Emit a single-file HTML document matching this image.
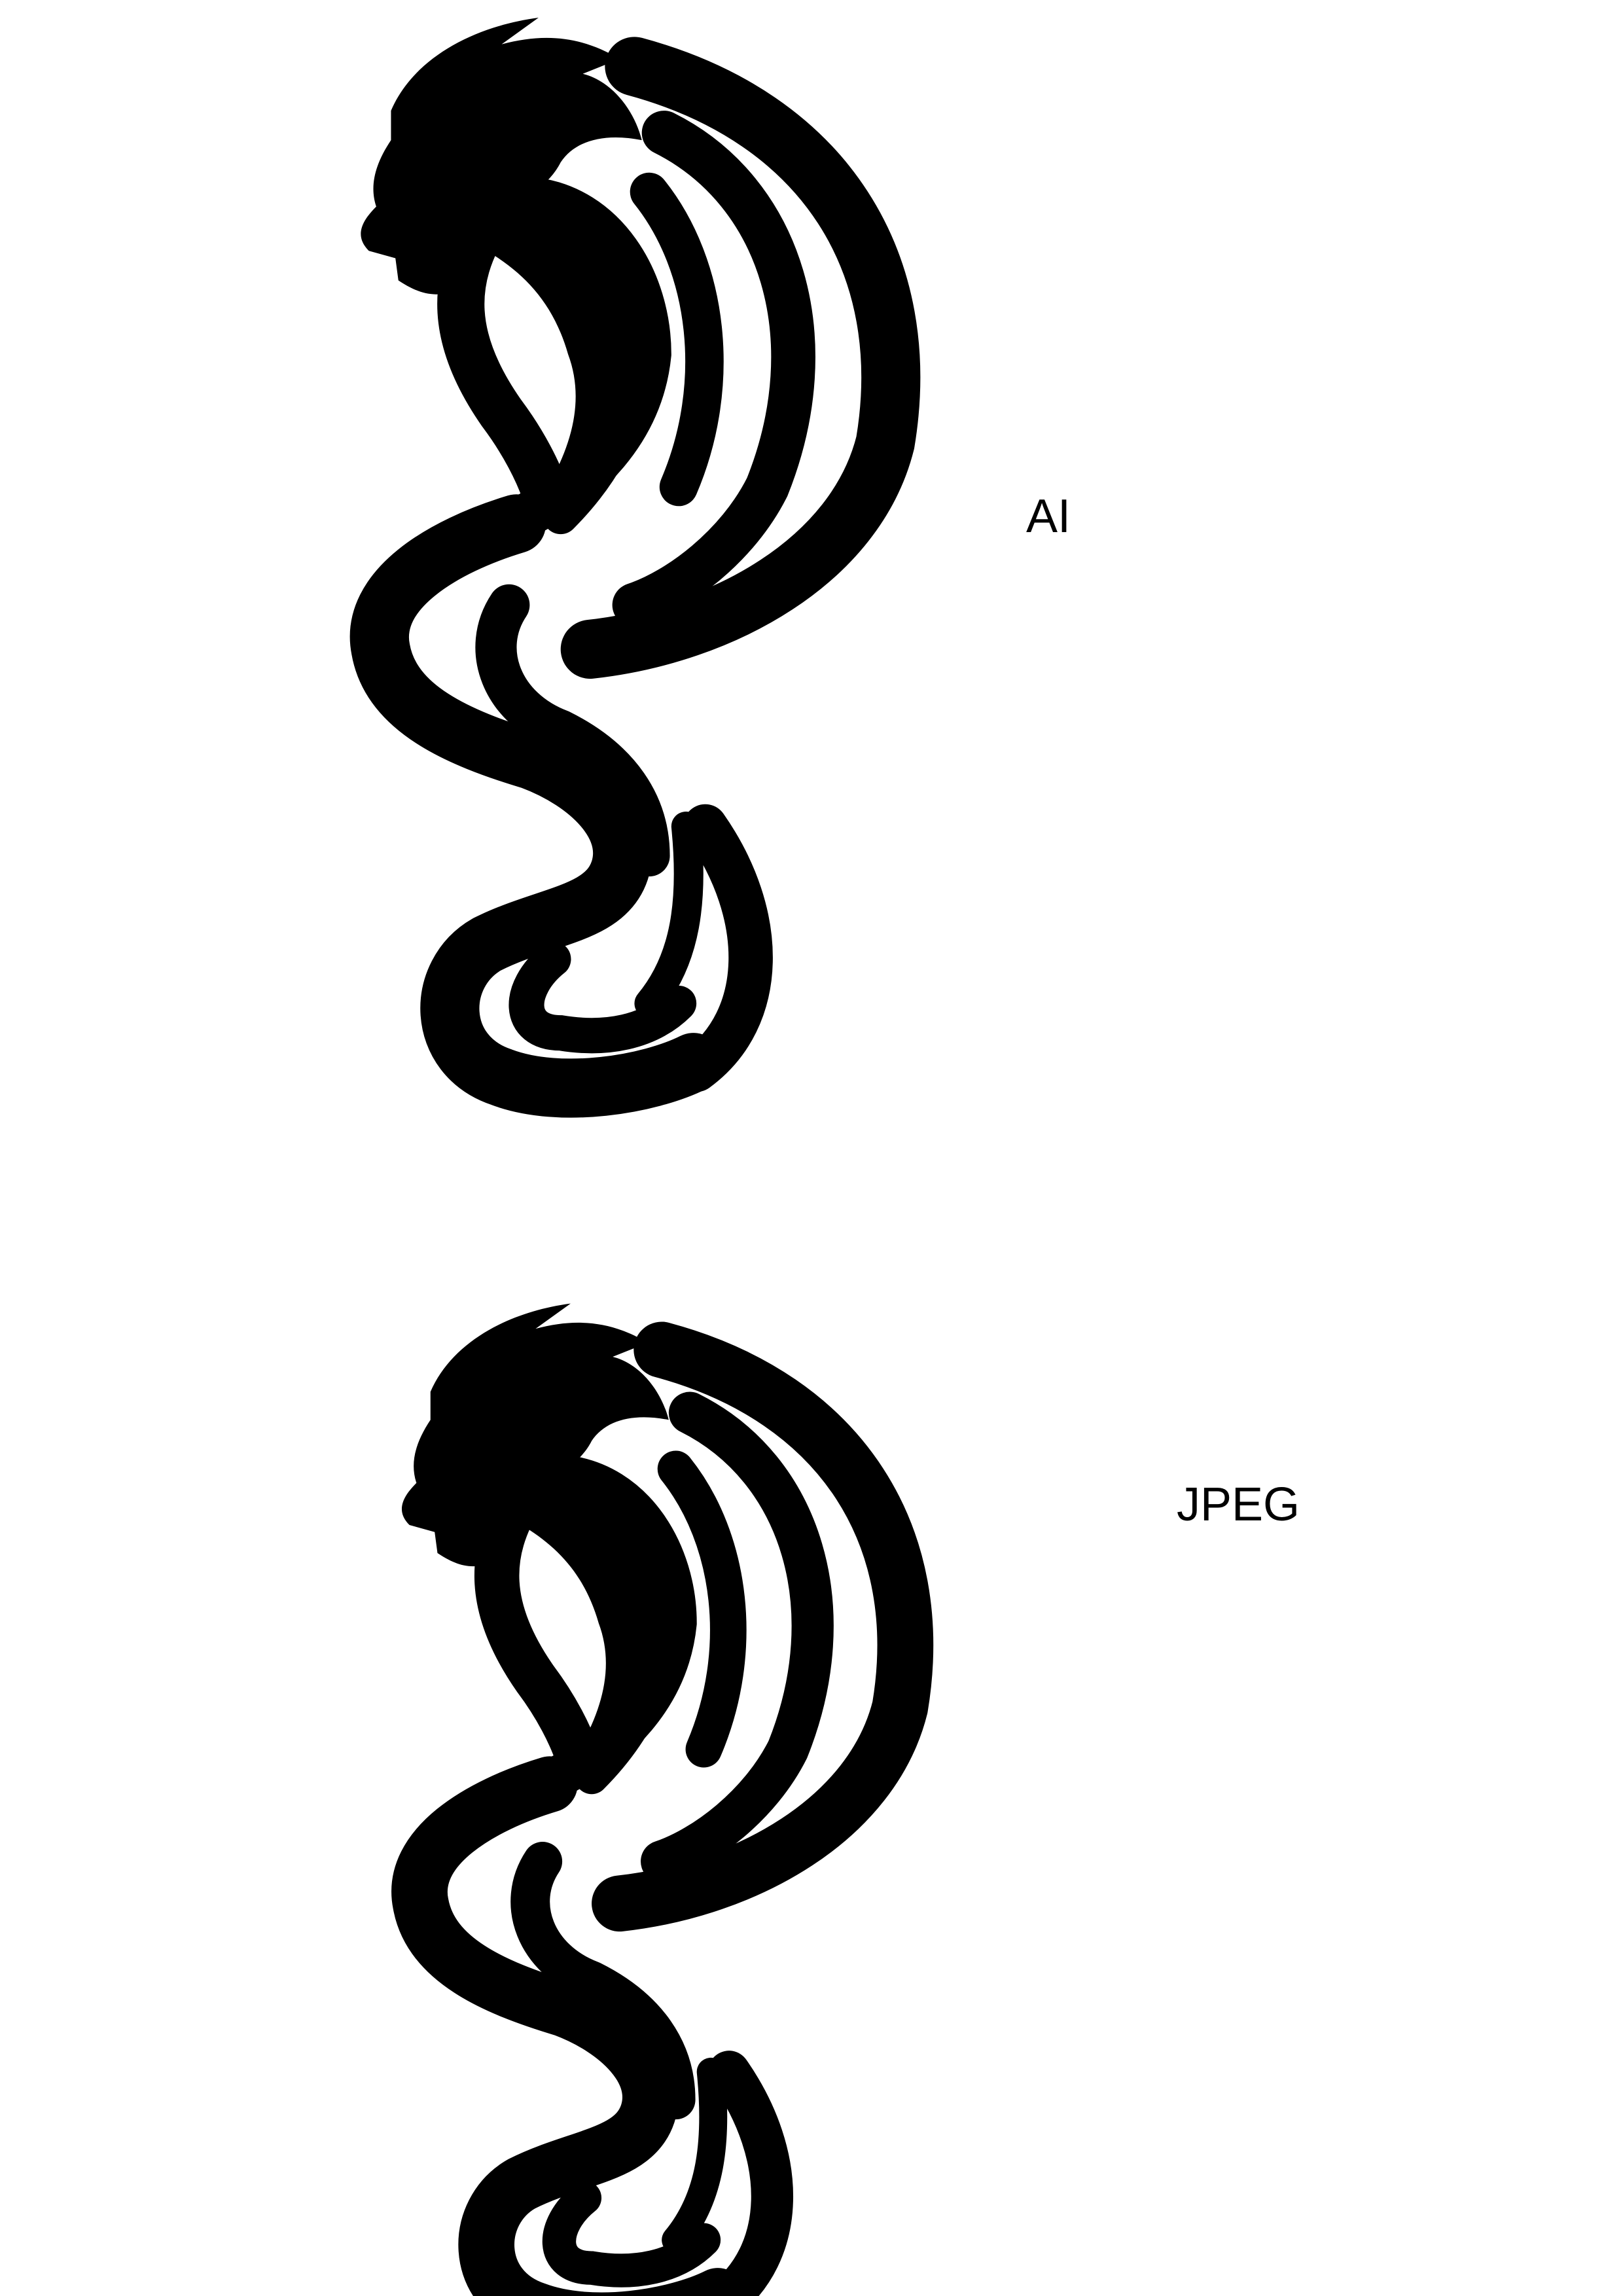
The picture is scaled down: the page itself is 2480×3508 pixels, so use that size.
<!DOCTYPE html>
<html>
<head>
<meta charset="utf-8">
<style>
  html,body{margin:0;padding:0;background:#fff;}
  body{width:2480px;height:3508px;overflow:hidden;position:relative;}
  svg{position:absolute;left:0;top:0;}
  .lbl{position:absolute;font-family:"Liberation Sans",sans-serif;color:#000;font-size:72px;}
</style>
</head>
<body>
<svg width="2480" height="3508" viewBox="0 0 1100 1556" preserveAspectRatio="none">
  <defs>
    <g id="dragon">
      <path fill="#000" d="M265,75 C280,40 320,18 365,12 L340,30 C370,22 395,25 420,40 L395,50 C415,55 430,75 435,95 C410,90 390,95 380,110 C370,130 345,140 330,150 L320,190 C300,205 285,200 270,190 L268,175 L250,170 C240,160 245,150 255,140 C250,125 255,110 265,95 Z"/>
      <path fill="#000" d="M345,130 C400,125 440,170 445,230 C445,290 410,330 355,355 C380,320 400,280 385,240 C375,205 355,185 330,170 Z"/>
      <g fill="none" stroke="#000" stroke-linecap="round">
        <path stroke-width="32" d="M330,150 C305,190 305,230 340,280 C355,300 365,320 370,335"/>
        <path stroke-width="30" d="M360,135 C410,140 440,190 440,240 C435,290 400,330 345,355"/>
        <path stroke-width="40" d="M430,45 C560,80 620,180 600,300 C580,380 490,430 400,440"/>
        <path stroke-width="30" d="M450,90 C530,130 560,230 520,330 C500,370 460,400 430,410"/>
        <path stroke-width="26" d="M440,130 C480,180 490,260 460,330"/>
        <path stroke-width="24" d="M430,200 C440,260 420,310 380,350"/>
        <path stroke-width="40" d="M350,355 C300,370 250,400 258,440 C265,480 310,500 360,515 C400,530 430,560 420,590 C410,620 370,620 330,640 C295,660 295,715 340,730 C380,745 440,735 470,720"/>
        <path stroke-width="28" d="M345,410 C325,440 340,480 380,495 C420,515 440,545 440,580"/>
        <path stroke-width="24" d="M375,650 C350,670 350,700 380,700 C410,705 440,700 460,680"/>
        <path stroke-width="30" d="M478,560 C520,620 520,690 472,725"/>
        <path stroke-width="20" d="M465,560 C470,610 465,650 440,680"/>
      </g>
    </g>
  </defs>
  <use href="#dragon"/>
  <use href="#dragon" transform="translate(40,872) scale(0.95)"/>
</svg>
<div class="lbl" style="left:1568px;top:748px;">AI</div>
<div class="lbl" style="left:1798px;top:2258px;">JPEG</div>
</body>
</html>
